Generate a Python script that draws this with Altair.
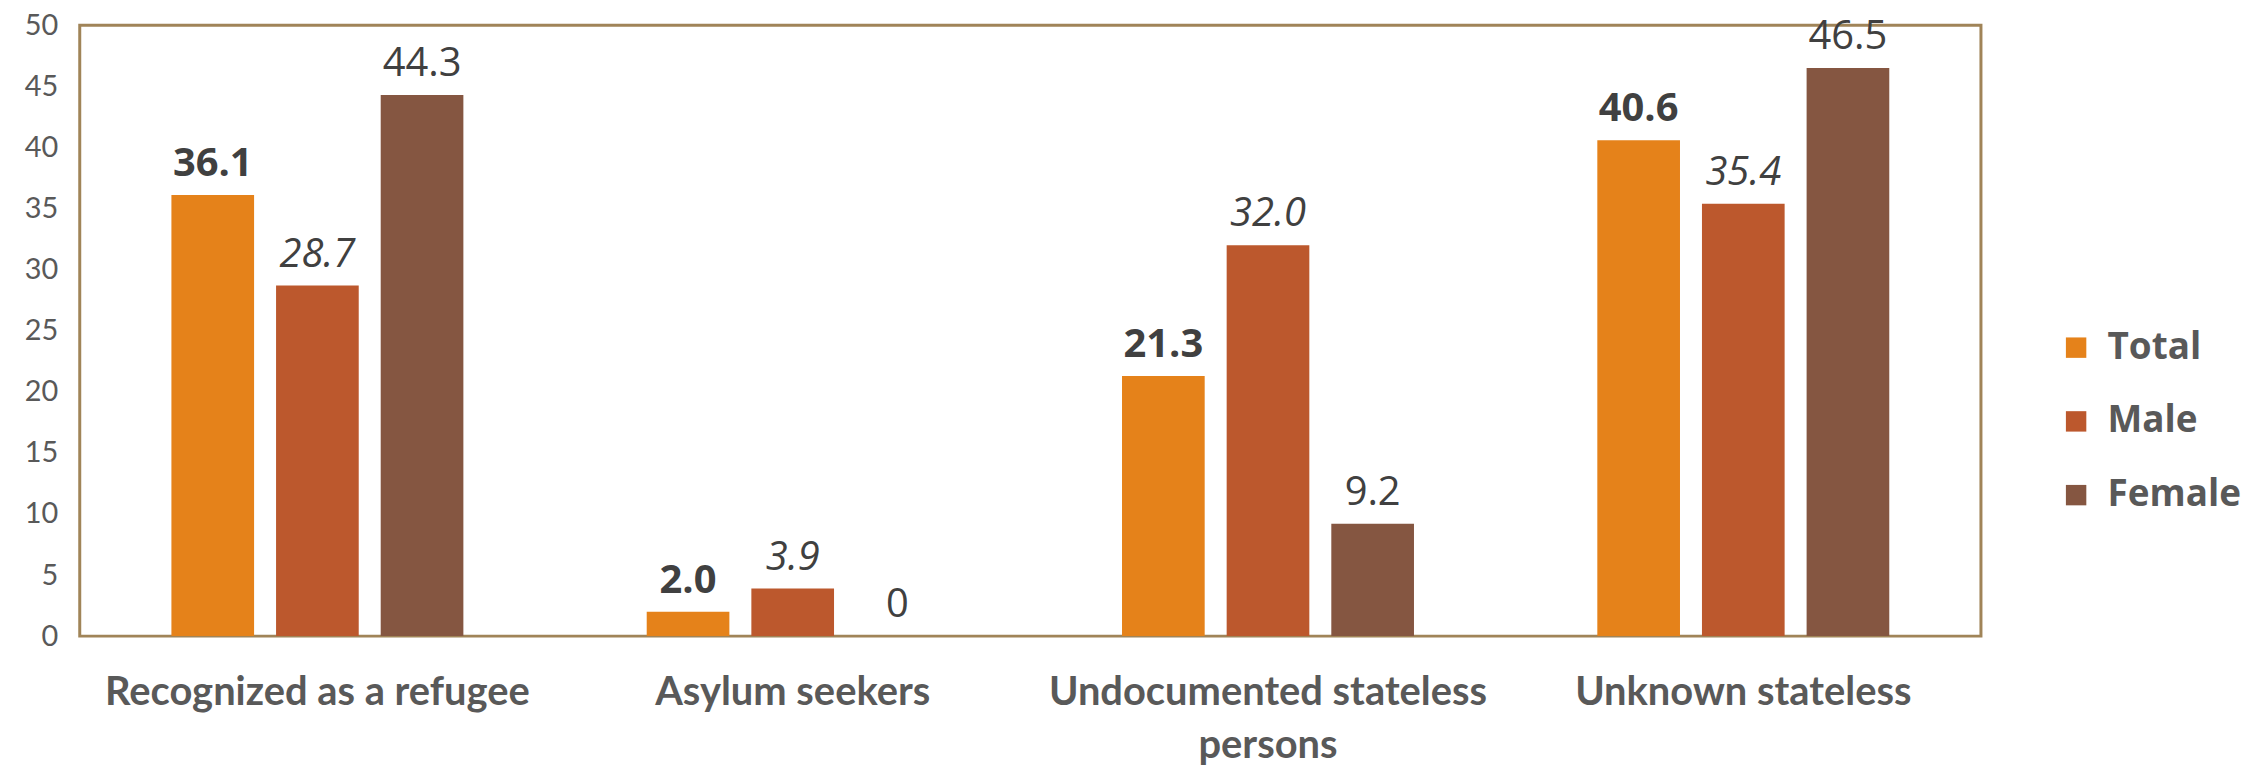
import altair as alt
import pandas as pd

categories = ["Recognized as a refugee", "Asylum seekers", "Undocumented stateless persons", "Unknown stateless"]
series = ["Total", "Male", "Female"]
total = [36.1, 2.0, 21.3, 40.6]
male = [28.7, 3.9, 32.0, 35.4]
female = [44.3, 0.0, 9.2, 46.5]
colors = ["#E5821A", "#BC582D", "#855641"]

rows = []
for i, c in enumerate(categories):
    for s, vals in zip(series, [total, male, female]):
        rows.append({"category": c, "series": s, "value": vals[i]})
df = pd.DataFrame(rows)

x = alt.X("category:N", sort=categories, title=None,
          scale=alt.Scale(paddingInner=0, paddingOuter=0),
          axis=alt.Axis(labelAngle=0, labelFont="Lato", labelFontWeight="bold", labelFontSize=40,
                        labelColor="#595959", domain=False, ticks=False, labelPadding=37,
                        labelBaseline="top", labelLineHeight=53, labelLimit=0,
                        labelExpr="datum.label == 'Undocumented stateless persons' ? ['Undocumented stateless', 'persons'] : datum.label"))
xo = alt.XOffset("series:N", sort=series,
                 scale=alt.Scale(domain=series, paddingInner=0.21, paddingOuter=0.876))
y = alt.Y("value:Q", title=None,
          scale=alt.Scale(domain=[0, 50], nice=False),
          axis=alt.Axis(values=list(range(0, 51, 5)), grid=False, domain=False, ticks=False,
                        labelFont="Lato", labelFontSize=29, labelColor="#595959", labelPadding=22))

bars = alt.Chart(df).mark_bar().encode(
    x=x, xOffset=xo, y=y,
    color=alt.Color("series:N", sort=series,
                    scale=alt.Scale(domain=series, range=colors),
                    legend=alt.Legend(title=None, orient="none", legendX=1985, legendY=305,
                                      symbolType="square", symbolSize=420, symbolStrokeWidth=0,
                                      labelFont="Open Sans", labelFontWeight="bold", labelFontSize=37,
                                      labelColor="#595959", labelOffset=13, rowPadding=36, padding=0,
                                      labelLimit=0))
)

styles = {"Total": ("bold", "normal"), "Male": ("normal", "italic"), "Female": ("normal", "normal")}
layers = [bars]
for s in series:
    w, st = styles[s]
    t = alt.Chart(df).transform_filter(alt.datum.series == s).transform_calculate(
        lbl="datum.value == 0 ? '0' : format(datum.value, '.1f')"
    ).mark_text(font="Open Sans", fontSize=40, fontWeight=w, fontStyle=st, color="#404040",
                baseline="bottom", dy=-11).encode(
        x=x, xOffset=xo, y=y, text="lbl:N")
    layers.append(t)

chart = alt.layer(*layers).properties(
    width=1908, height=613,
    background="white",
    autosize=alt.AutoSizeParams(type="none"),
    padding={"left": 72, "top": 16, "right": 266, "bottom": 136},
).configure_view(stroke="#A08458", strokeWidth=3)

chart.save("out.html", embed_options={"renderer": "svg", "actions": False})
